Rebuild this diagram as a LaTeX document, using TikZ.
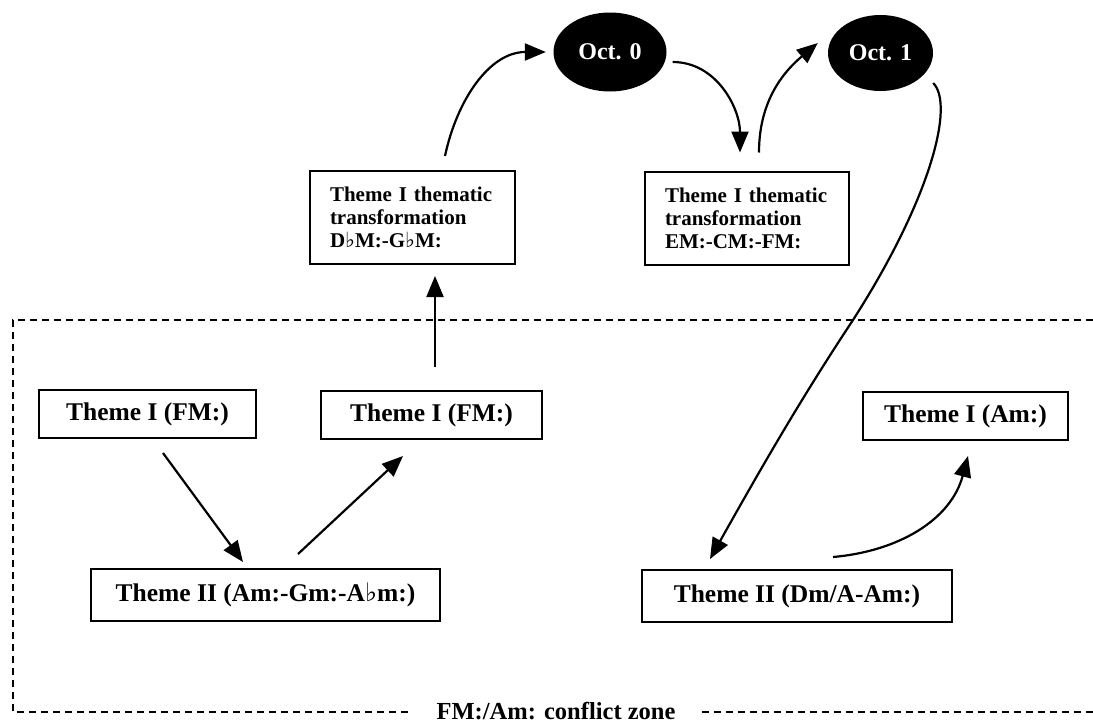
\documentclass[tikz,border=0pt]{standalone}
\usepackage{fontspec}
\setmainfont{Liberation Serif}
\newfontfamily\flatfont{DejaVu Serif}
\newcommand{\flt}{{\flatfont\bfseries ♭}}
\usetikzlibrary{arrows.meta,shapes.geometric}
\begin{document}
\begin{tikzpicture}[x=1pt,y=-1pt,
  box/.style={draw, line width=2pt, inner sep=0pt,
    font=\fontsize{25.5}{30}\selectfont\bfseries, minimum height=48pt},
  thembox/.style={draw, line width=2pt, inner xsep=20pt, inner ysep=0pt,
    text width=165pt, minimum height=93pt, align=left,
    font=\fontsize{21}{23}\selectfont\bfseries},
  octave/.style={ellipse, fill=black, text=white, inner sep=0pt,
    font=\fontsize{24}{28}\selectfont\bfseries},
  flow/.style={line width=2.2pt, -{Triangle[length=21pt,width=17pt]}},
  zone/.style={line width=2pt, dash pattern=on 7pt off 5pt}
]
\fill[white] (0,0) rectangle (1093,728);
\useasboundingbox (0,0) rectangle (1093,728);

% thematic transformation boxes
\node[thembox] (th1) at (412.5,217.5) {Theme I thematic\\transformation\\D\flt M:-G\flt M:};
\node[thembox, text width=164pt] (th2) at (747,218) {Theme I thematic\\transformation\\EM:-CM:-FM:};

% octave nodes
\node[octave, minimum width=113pt, minimum height=79pt] (oct0) at (610,52) {Oct. 0};
\node[octave, minimum width=105pt, minimum height=76pt] (oct1) at (880.5,53) {Oct. 1};

% theme boxes inside the conflict zone
\node[box, minimum width=217pt] (t1a) at (147.5,414) {Theme I (FM:)};
\node[box, minimum width=221pt] (t1b) at (431.5,415) {Theme I (FM:)};
\node[box, minimum width=205pt] (t1c) at (965.5,416) {Theme I (Am:)};
\node[box, minimum width=349pt, minimum height=52pt] (t2a) at (265.5,595) {Theme II (Am:-Gm:-A\flt m:)};
\node[box, minimum width=310pt, minimum height=52pt] (t2b) at (797,596) {Theme II (Dm/A-Am:)};

% conflict zone frame
\coordinate (ftl) at (13,320);
\coordinate (ftr) at (1093,320);
\coordinate (fbl) at (13,712);
\coordinate (fbr) at (1093,712);
\node[font=\fontsize{24.5}{28}\selectfont\bfseries, inner xsep=26pt, inner ysep=0pt] (zonelabel) at (556,711) {FM:/Am: conflict zone};
\draw[zone] (ftr) -- (ftl) -- (fbl) -- (fbl -| zonelabel.west);
\draw[zone] (zonelabel.east |- fbr) -- (fbr);

% connectors
\draw[flow] ([xshift=32.5pt,yshift=14pt]th1.north) to[out=78,in=180] ([xshift=-7.5pt]oct0.west);
\draw[flow] ([xshift=6pt,yshift=-10pt]oct0.east) to[out=0,in=90] ([xshift=-7pt,yshift=18pt]th2.north);
\draw[flow] ([xshift=12pt,yshift=18pt]th2.north) to[out=90,in=220] ([xshift=-10pt,yshift=10pt]oct1.west);
\draw[flow] ([yshift=-30pt]oct1.east) .. controls (955,105) and (930,200) .. (853,320)
  .. controls (800,400) and (760,470) .. ([xshift=-87pt,yshift=10pt]t2b.north);
\draw[flow] ([xshift=15.5pt,yshift=-14pt]t1a.south) -- ([xshift=-22.5pt,yshift=6pt]t2a.north);
\draw[flow] ([xshift=32.5pt,yshift=14pt]t2a.north) -- ([xshift=-28.5pt,yshift=-16pt]t1b.south);
\draw[flow] ([xshift=3.5pt,yshift=23pt]t1b.north) -- ([xshift=22.5pt,yshift=-11pt]th1.south);
\draw[flow] ([xshift=36pt,yshift=12pt]t2b.north) to[out=5,in=-105] ([xshift=2.5pt,yshift=-15pt]t1c.south);
\end{tikzpicture}
\end{document}
